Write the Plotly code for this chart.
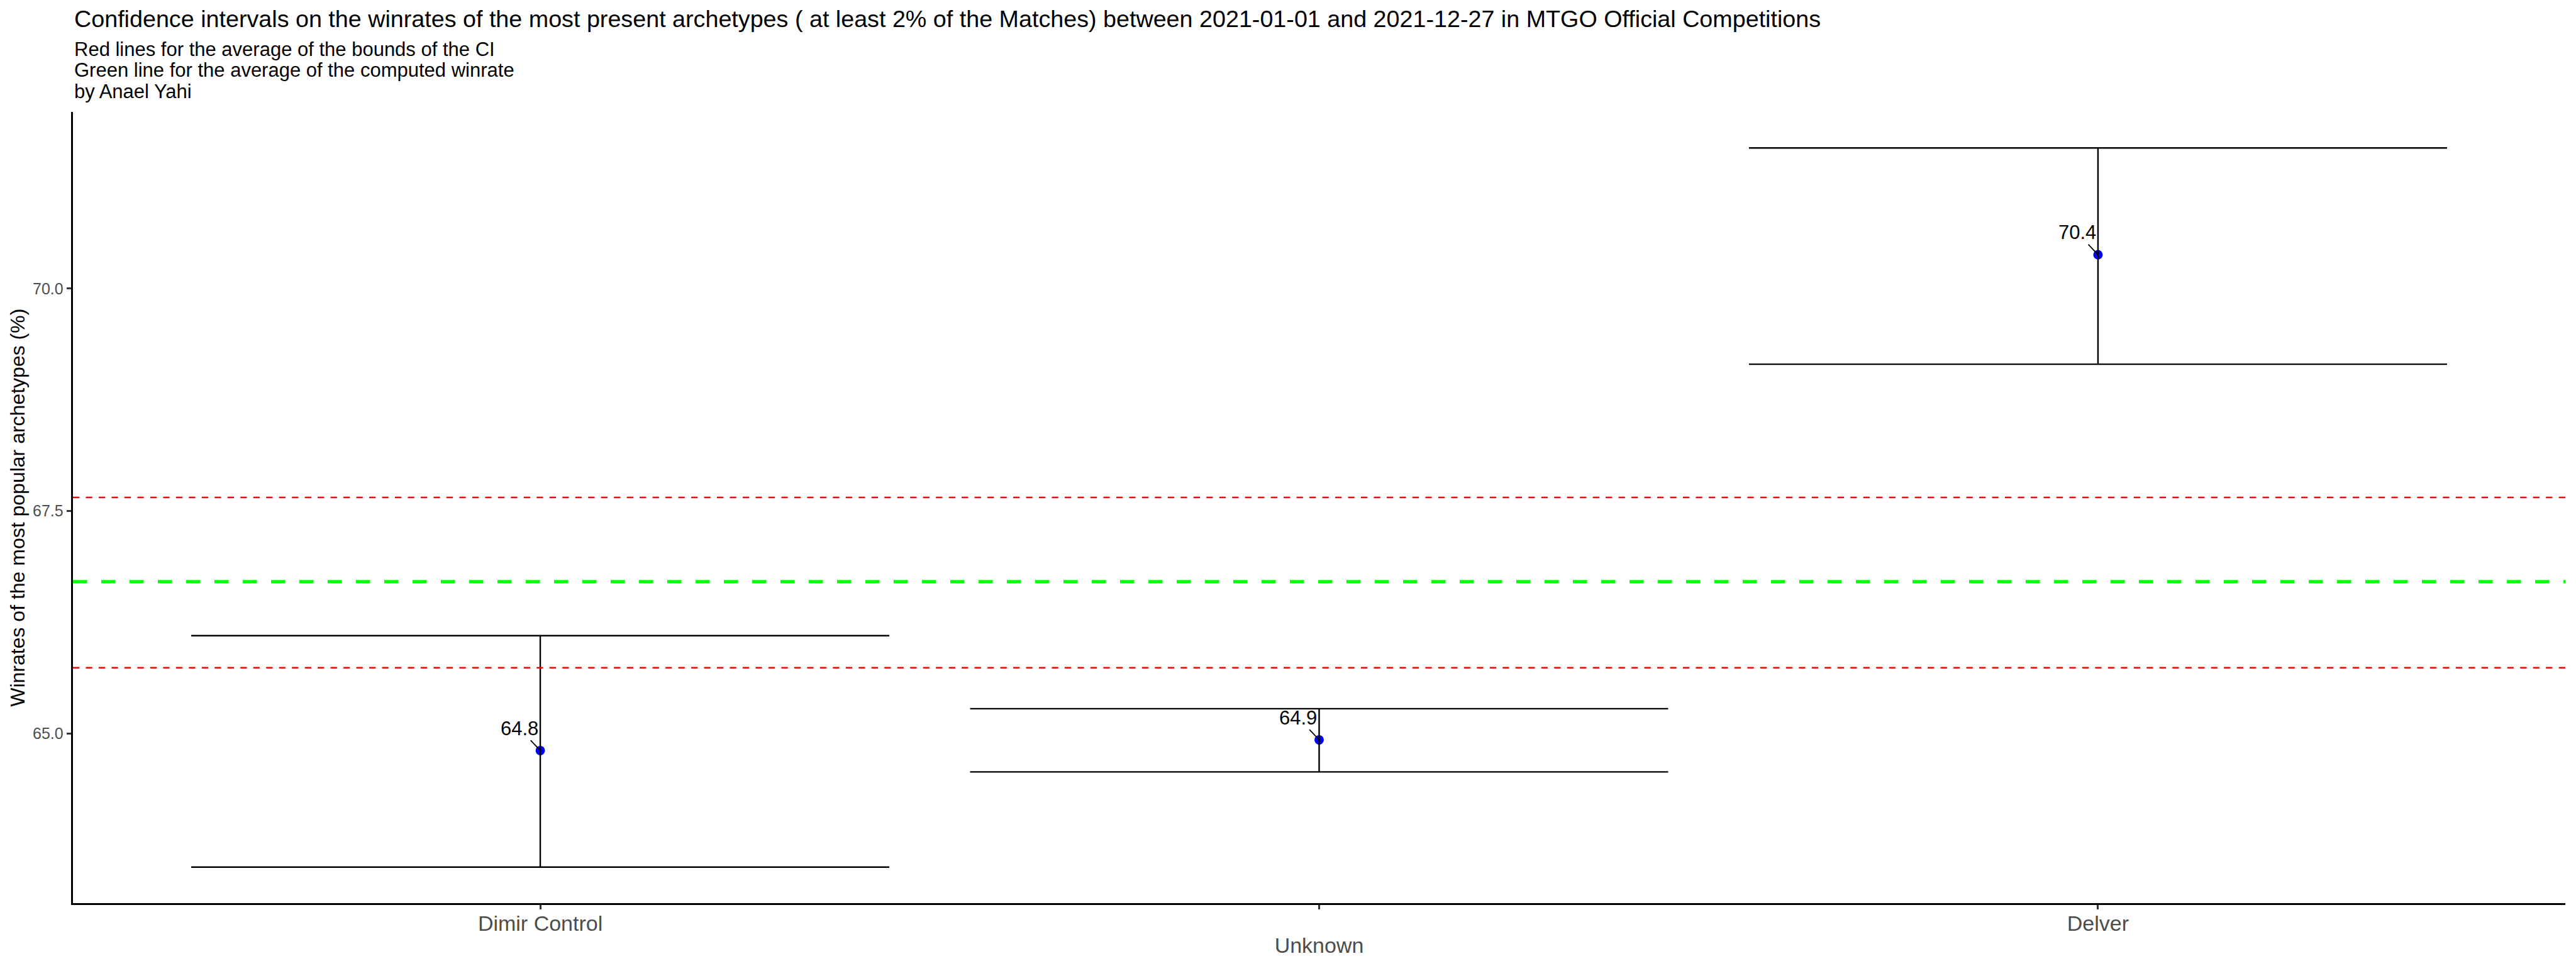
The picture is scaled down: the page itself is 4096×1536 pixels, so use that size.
import plotly.graph_objects as go

# ---------------- data ----------------
categories = ["Dimir Control", "Unknown", "Delver"]
winrate = [64.81, 64.93, 70.38]
ci_lower = [63.50, 64.57, 69.15]
ci_upper = [66.10, 65.28, 71.58]
y_tick_values = [65.0, 67.5, 70.0]

title_text = ("Confidence intervals on the winrates of the most present archetypes "
              "( at least 2% of the Matches) between 2021-01-01 and 2021-12-27 in MTGO Official Competitions")
subtitle_lines = ["Red lines for the average of the bounds of the CI",
                  "Green line for the average of the computed winrate",
                  "by Anael Yahi"]
y_title = "Winrates of the most popular archetypes (%)"

# ---------------- derived values ----------------
labels = [f"{v:.1f}" for v in winrate]
mean_lower = sum(ci_lower) / len(ci_lower)
mean_upper = sum(ci_upper) / len(ci_upper)
mean_winrate = sum(winrate) / len(winrate)
lo, hi = min(ci_lower), max(ci_upper)
pad = 0.05 * (hi - lo)
y_range = [lo - pad, hi + pad]

# n.dodge = 2 : alternate label rows
row1_text = [c if i % 2 == 0 else "" for i, c in enumerate(categories)]
row2_vals = [c for i, c in enumerate(categories) if i % 2 == 1]

# ---------------- layout geometry ----------------
W, H = 4096, 1536
L, R, T, B = 116, 17, 178, 100
plot_h = H - T - B
plot_w = W - L - R


def py(p):
    """pixel-from-top -> paper y"""
    return (H - B - p) / plot_h


def px(p):
    """pixel-from-left -> paper x"""
    return (p - L) / plot_w


FONT = "Liberation Sans, Arial, sans-serif"

fig = go.Figure()

# points
fig.add_trace(go.Scatter(
    x=categories, y=winrate, mode="markers",
    marker=dict(color="blue", size=15, line=dict(width=0)),
    showlegend=False, hoverinfo="skip", xaxis="x", yaxis="y"))

# error bars drawn above the points
fig.add_trace(go.Scatter(
    x=categories, y=winrate, mode="markers",
    marker=dict(color="rgba(0,0,0,0)", size=1),
    error_y=dict(type="data", symmetric=False,
                 array=[u - w for u, w in zip(ci_upper, winrate)],
                 arrayminus=[w - l for w, l in zip(winrate, ci_lower)],
                 color="black", thickness=2.4, width=555),
    showlegend=False, hoverinfo="skip", xaxis="x2", yaxis="y"))

# reference lines
fig.add_hline(y=mean_upper, line=dict(color="red", width=2.5, dash="10.24px,10.24px"))
fig.add_hline(y=mean_lower, line=dict(color="red", width=2.5, dash="10.24px,10.24px"))
fig.add_hline(y=mean_winrate, line=dict(color="#00FF00", width=5.3, dash="22.5px,22.5px"))

annotations = []
# value labels with repel segments
for c, v, t in zip(categories, winrate, labels):
    annotations.append(dict(
        x=c, y=v, xref="x", yref="y", text=t, showarrow=True,
        arrowhead=0, arrowwidth=1.8, arrowcolor="black", standoff=0,
        ax=-33.3, ay=-35.3, font=dict(family=FONT, size=31, color="black")))

# title + subtitle
annotations.append(dict(text=title_text, xref="paper", yref="paper", x=0, y=py(29.9),
                        xanchor="left", yanchor="middle", showarrow=False,
                        font=dict(family=FONT, size=37.7, color="black")))
for p, line in zip([78.8, 111.9, 145.2], subtitle_lines):
    annotations.append(dict(text=line, xref="paper", yref="paper", x=0, y=py(p),
                            xanchor="left", yanchor="middle", showarrow=False,
                            font=dict(family=FONT, size=31, color="black")))

# y axis title
annotations.append(dict(text=y_title, xref="paper", yref="paper", x=px(27.8), y=0.5,
                        xanchor="center", yanchor="middle", textangle=-90, showarrow=False,
                        font=dict(family=FONT, size=32, color="black")))

common_x = dict(type="category", categoryorder="array", categoryarray=categories,
                range=[-0.6, len(categories) - 0.4], showgrid=False, zeroline=False,
                tickfont=dict(family=FONT, size=34, color="#4D4D4D"))

fig.update_layout(
    width=W, height=H,
    margin=dict(l=L, r=R, t=T, b=B, pad=0),
    paper_bgcolor="white", plot_bgcolor="white",
    showlegend=False,
    font=dict(family=FONT),
    xaxis=dict(**common_x, showline=True, linecolor="black", linewidth=2.6,
               ticks="outside", ticklen=7.5, tickwidth=2.5, tickcolor="#333333",
               tickmode="array", tickvals=categories, ticktext=row1_text,
               ticklabelstandoff=-7),
    xaxis2=dict(**common_x, overlaying="x", anchor="y", side="bottom",
                showline=False, ticks="", tickmode="array",
                tickvals=row2_vals, ticktext=row2_vals, ticklabelstandoff=44),
    yaxis=dict(range=y_range, showgrid=False, zeroline=False,
               showline=True, linecolor="black", linewidth=2.6,
               ticks="outside", ticklen=7.5, tickwidth=2.5, tickcolor="#333333",
               tickmode="array", tickvals=y_tick_values,
               ticktext=[f"{v:.1f}" for v in y_tick_values],
               tickfont=dict(family=FONT, size=25, color="#4D4D4D")),
    annotations=annotations,
)

fig.write_html("out.html")
